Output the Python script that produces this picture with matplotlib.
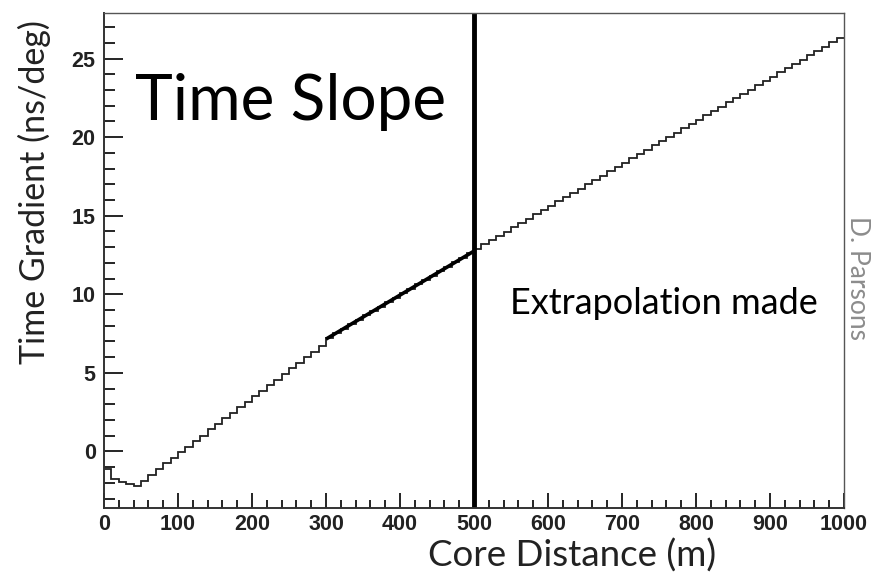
import numpy as np
import matplotlib
matplotlib.use('Agg')
import matplotlib.pyplot as plt
from matplotlib.ticker import MultipleLocator

# histogram: time gradient per 10 m core-distance bin
bin_edges = np.linspace(0, 1000, 101)
gradient = [
    -1.10, -1.75, -1.95, -2.10, -2.20, -1.85, -1.50, -1.10, -0.75, -0.40,
    -0.05, 0.30, 0.65, 1.00, 1.40, 1.75, 2.10, 2.45, 2.80, 3.15,
    3.50, 3.85, 4.20, 4.55, 4.90, 5.30, 5.65, 6.00, 6.35, 6.70,
    7.25, 7.53, 7.81, 8.09, 8.38, 8.66, 8.94, 9.22, 9.50, 9.78,
    10.07, 10.35, 10.63, 10.91, 11.19, 11.47, 11.76, 12.04, 12.32, 12.60,
    12.90, 13.17, 13.45, 13.72, 13.99, 14.27, 14.54, 14.81, 15.09, 15.36,
    15.64, 15.91, 16.18, 16.46, 16.73, 17.00, 17.28, 17.55, 17.83, 18.10,
    18.37, 18.65, 18.92, 19.19, 19.47, 19.74, 20.02, 20.29, 20.56, 20.84,
    21.11, 21.38, 21.66, 21.93, 22.21, 22.48, 22.75, 23.03, 23.30, 23.57,
    23.85, 24.12, 24.40, 24.67, 24.94, 25.22, 25.49, 25.76, 26.04, 26.31,
]

# linear fit drawn over the 300-500 m range
fit_x = [300, 500]
fit_y = [7.15, 12.75]

# distance up to which the fit is used
cut_distance = 500

fig = plt.figure(figsize=(8.88, 5.79), dpi=100)
ax = fig.add_axes([0.1171, 0.1226, 0.8334, 0.8549])

ax.stairs(gradient, bin_edges, color='#222222', lw=1.3, baseline=None)
ax.plot(fit_x, fit_y, color='black', lw=2.6, solid_capstyle='butt')
ax.axvline(cut_distance, color='black', lw=3.5)

ax.set_xlim(0, 1000)
ax.set_ylim(-3.6, 27.9)

ax.xaxis.set_major_locator(MultipleLocator(100))
ax.xaxis.set_minor_locator(MultipleLocator(20))
ax.yaxis.set_major_locator(MultipleLocator(5))
ax.yaxis.set_minor_locator(MultipleLocator(1))

ax.tick_params(axis='x', which='major', direction='in', length=11, width=1.2,
               top=False, pad=4)
ax.tick_params(axis='x', which='minor', direction='in', length=6, width=1.2,
               top=False)
ax.tick_params(axis='y', which='major', direction='in', length=14, width=1.2,
               right=False, pad=6)
ax.tick_params(axis='y', which='minor', direction='in', length=8, width=1.2,
               right=False)

for lab in ax.get_xticklabels() + ax.get_yticklabels():
    lab.set_fontfamily('Liberation Sans')
    lab.set_fontweight('bold')
    lab.set_fontsize(15.5)
    lab.set_color('#222222')

for sp in ax.spines.values():
    sp.set_color('#555555')
    sp.set_linewidth(1.0)
ax.spines['left'].set_color('#333333')
ax.spines['bottom'].set_color('#333333')
ax.spines['left'].set_linewidth(1.4)
ax.spines['bottom'].set_linewidth(1.4)

label_font = 'Lato'
fig.text(0.644, 0.041, 'Core Distance (m)', ha='center', va='center',
         fontsize=26.5, family=label_font, color='#222222')
fig.text(0.039, 0.668, 'Time Gradient (ns/deg)', ha='center', va='center',
         rotation=90, fontsize=24.5, family=label_font, color='#222222')

ax.text(0.042, 0.82, 'Time Slope', transform=ax.transAxes, ha='left',
        va='center', fontsize=46, family=label_font, color='black')
ax.text(0.549, 0.414, 'Extrapolation made', transform=ax.transAxes,
        ha='left', va='center', fontsize=26, family=label_font, color='black')

fig.text(0.966, 0.52, 'D. Parsons', ha='center', va='center', rotation=-90,
         fontsize=19, family=label_font, color='#8c8c8c')

fig.savefig('out.png', dpi=100)
